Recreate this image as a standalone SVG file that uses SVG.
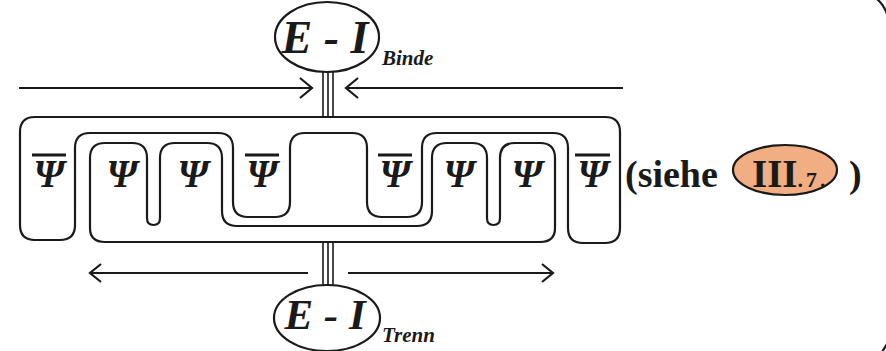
<svg xmlns="http://www.w3.org/2000/svg" width="886" height="351" viewBox="0 0 886 351">
<style>
.ln{fill:none;stroke:#1a1a1a;stroke-width:2.2;stroke-linecap:round;stroke-linejoin:round}
.el{fill:#ffffff;stroke:#1a1a1a;stroke-width:2.2}
.elo{fill:#F0AE82;stroke:#1a1a1a;stroke-width:2.2}
.ar{fill:none;stroke:#1a1a1a;stroke-width:2.2;stroke-linecap:butt;stroke-linejoin:miter}
.tl{stroke:#1a1a1a;stroke-width:1.6}
.ov{stroke:#1a1a1a;stroke-width:3}
.psi{font-family:"Liberation Serif",serif;font-weight:bold;font-style:italic;font-size:39px;fill:#1a1a1a;text-anchor:middle}
.ei{font-family:"Liberation Serif",serif;font-weight:bold;font-style:italic;fill:#1a1a1a;text-anchor:middle}
.sub{font-family:"Liberation Serif",serif;font-weight:bold;font-style:italic;font-size:21px;fill:#1a1a1a}
.rm{font-family:"Liberation Serif",serif;font-weight:bold;fill:#1a1a1a}
</style>
<rect width="886" height="351" fill="#ffffff"/>
<g id="frame">
<path class="ln" d="M 877,-1 Q 884,5 887,14"/>
<path class="ln" d="M 882,352 L 887,344"/>
</g>
<g id="outer-shape">
<path class="ln" d="M 35,117 H 605 Q 620,117 620,132 V 228 Q 620,243 605,243 H 583 Q 568,243 568,228 V 148 Q 568,133 553,133 H 437 Q 422,133 422,148 V 202 Q 422,217 407,217 H 382 Q 367,217 367,202 V 148 Q 367,133 352,133 H 305 Q 290,133 290,148 V 202 Q 290,217 275,217 H 248 Q 233,217 233,202 V 148 Q 233,133 218,133 H 90 Q 75,133 75,148 V 225 Q 75,240 60,240 H 35 Q 20,240 20,225 V 132 Q 20,117 35,117 Z"/>
</g>
<g id="inner-shape">
<path class="ln" d="M 90,228 V 158 Q 90,143 105,143 H 132 Q 147,143 147,158 V 218 Q 147,225 153.5,225 Q 160,225 160,218 V 158 Q 160,143 175,143 H 207 Q 222,143 222,158 V 211 Q 222,226 237,226 H 417 Q 432,226 432,211 V 158 Q 432,143 447,143 H 472 Q 487,143 487,158 V 218 Q 487,225 493.5,225 Q 500,225 500,218 V 158 Q 500,143 515,143 H 540 Q 555,143 555,158 V 228 Q 555,242 540,242 H 105 Q 90,242 90,228 Z"/>
</g>
<g id="psi-labels">
<line class="ov" x1="32" y1="155" x2="66" y2="155"/>
<text class="psi" x="49" y="187">Ψ</text>
<text class="psi" x="122" y="187">Ψ</text>
<text class="psi" x="193" y="187">Ψ</text>
<line class="ov" x1="245" y1="155" x2="279" y2="155"/>
<text class="psi" x="262" y="187">Ψ</text>
<line class="ov" x1="378" y1="155" x2="412" y2="155"/>
<text class="psi" x="395" y="187">Ψ</text>
<text class="psi" x="459" y="187">Ψ</text>
<text class="psi" x="527" y="187">Ψ</text>
<line class="ov" x1="575" y1="155" x2="610" y2="155"/>
<text class="psi" x="593" y="187">Ψ</text>
</g>
<g id="node-ei-binde">
<ellipse class="el" cx="327" cy="37" rx="52" ry="35"/>
<text class="ei" x="325" y="53" font-size="46">E - I</text>
<text class="sub" x="382" y="65">Binde</text>
</g>
<g id="node-ei-trenn">
<ellipse class="el" cx="327" cy="318" rx="53" ry="33"/>
<text class="ei" x="325" y="329" font-size="43">E - I</text>
<text class="sub" x="382" y="342">Trenn</text>
</g>
<g id="node-siehe">
<ellipse class="elo" cx="785" cy="170" rx="52" ry="25"/>
<text class="rm" x="625" y="187" font-size="38">(siehe</text>
<text class="rm" x="752" y="187" font-size="39">III<tspan font-size="22" letter-spacing="3">.7.</tspan></text>
<text class="rm" x="849" y="187" font-size="38">)</text>
</g>
<g id="connectors">
<line class="tl" x1="323" y1="72" x2="323" y2="117"/>
<line class="tl" x1="328" y1="72" x2="328" y2="117"/>
<line class="tl" x1="333" y1="72" x2="333" y2="117"/>
<line class="tl" x1="323" y1="243" x2="323" y2="285"/>
<line class="tl" x1="328" y1="243" x2="328" y2="285"/>
<line class="tl" x1="333" y1="243" x2="333" y2="285"/>
<path class="ar" d="M 19,88 H 311 M 300,78 L 312,88 L 300,98"/>
<path class="ar" d="M 623,88 H 347 M 358,78 L 346,88 L 358,98"/>
<path class="ar" d="M 308,273 H 90 M 101,264 L 90,273 L 101,282"/>
<path class="ar" d="M 348,273 H 553 M 542,264 L 553,273 L 542,282"/>
</g>
</svg>
